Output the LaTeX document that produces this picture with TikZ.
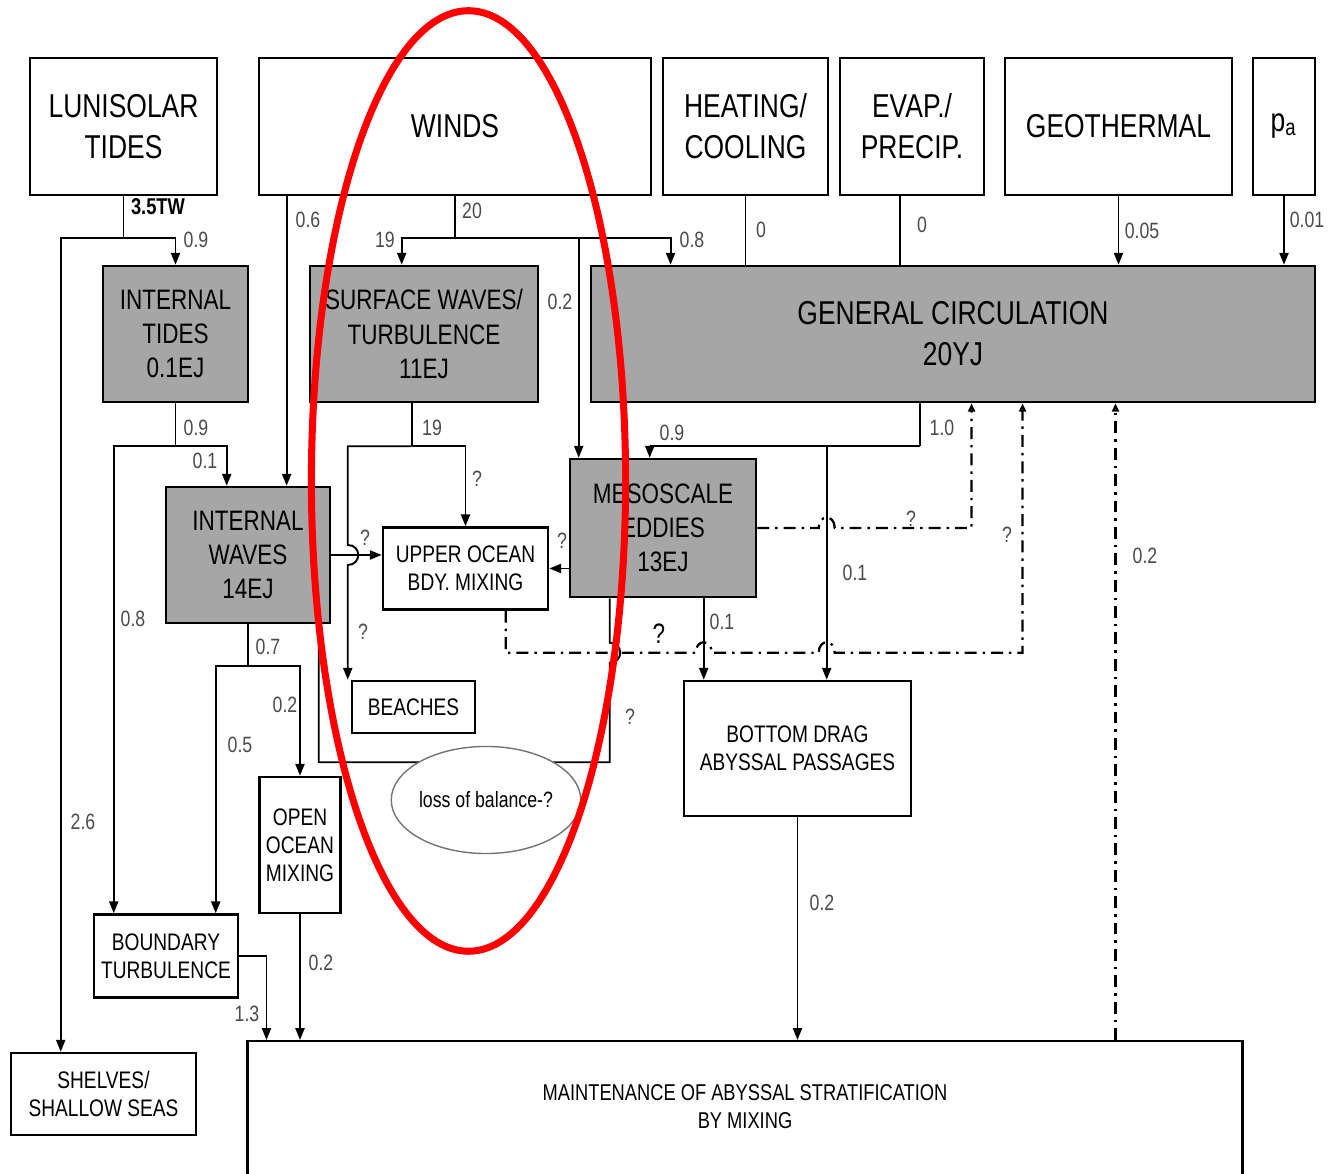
\documentclass[tikz,border=0pt]{standalone}
\usepackage{fontspec}
\setmainfont{Liberation Sans}[FakeStretch=0.8]
\usetikzlibrary{arrows.meta,calc,shapes.geometric}
\definecolor{kasten}{RGB}{166,166,166}
\definecolor{zahl}{RGB}{75,75,75}
\tikzset{
	box/.style={draw,line width=0.7pt,inner sep=0pt,align=center},
	gbox/.style={box,fill=kasten},
	big/.style={font=\fontsize{9.4}{11.6}\selectfont},
	mid/.style={font=\fontsize{8}{9.7}\selectfont},
	sml/.style={font=\fontsize{6.8}{8}\selectfont,align=center},
	wert/.style={font=\fontsize{6.3}{7}\selectfont,text=zahl,inner sep=0pt},
	fluss/.style={line width=0.55pt,->},
	rueck/.style={line width=0.65pt,dash pattern=on 3.4pt off 1.7pt on 0.7pt off 1.7pt,-{Triangle[open,length=2.4pt,width=2pt]}},
}
\def\sprungv#1{.. controls +(14,0) and +(14,0) .. ++(0,#1)}
\def\sprungh{.. controls +(0,-14) and +(0,-14) .. ++(16,0)}

\begin{document}
\begin{tikzpicture}[x=0.01cm,y=-0.01cm,>={Triangle[length=3.4pt,width=2.6pt]}]
\useasboundingbox (0,0) rectangle (1330,1174);

\node[box,big,minimum width=1.87cm,minimum height=1.37cm] (lun) at (123.5,126.5) {LUNISOLAR\\TIDES};
\node[box,big,minimum width=3.92cm,minimum height=1.37cm] (wind) at (455,126.5) {WINDS};
\node[box,big,minimum width=1.65cm,minimum height=1.37cm] (heat) at (745.5,126.5) {HEATING/\\COOLING};
\node[box,big,minimum width=1.44cm,minimum height=1.37cm] (evap) at (912,126.5) {EVAP./\\PRECIP.};
\node[box,big,minimum width=2.27cm,minimum height=1.37cm] (geo) at (1118.5,126.5) {GEOTHERMAL};
\node[box,big,minimum width=0.62cm,minimum height=1.37cm] (pa) at (1284,126.5) {p\textsubscript{a}};

\node[gbox,mid,minimum width=1.45cm,minimum height=1.36cm] (it) at (175.5,334) {INTERNAL\\TIDES\\0.1EJ};
\node[gbox,mid,minimum width=2.28cm,minimum height=1.36cm] (sw) at (424,334) {SURFACE WAVES/\\TURBULENCE\\11EJ};
\node[gbox,big,minimum width=7.24cm,minimum height=1.36cm] (gc) at (953,334) {GENERAL CIRCULATION\\20YJ};

\node[gbox,mid,minimum width=1.64cm,minimum height=1.36cm] (iw) at (248,555) {INTERNAL\\WAVES\\14EJ};
\node[box,sml,minimum width=1.65cm,minimum height=0.82cm] (uo) at (465.5,568.5) {UPPER OCEAN\\BDY. MIXING};
\node[gbox,mid,minimum width=1.86cm,minimum height=1.38cm] (me) at (663,528) {MESOSCALE\\EDDIES\\13EJ};
\node[box,sml,minimum width=1.23cm,minimum height=0.52cm] (bch) at (413.5,707) {BEACHES};
\node[box,sml,minimum width=0.81cm,minimum height=1.36cm] (oo) at (300,845) {OPEN\\OCEAN\\MIXING};
\node[box,sml,minimum width=1.44cm,minimum height=0.83cm] (bt) at (166,956) {BOUNDARY\\TURBULENCE};
\node[box,sml,minimum width=1.85cm,minimum height=0.82cm] (sh) at (103.5,1094) {SHELVES/\\SHALLOW SEAS};
\node[box,sml,minimum width=2.27cm,minimum height=1.35cm] (bd) at (797.5,748.5) {BOTTOM DRAG\\ABYSSAL PASSAGES};
\node[box,anchor=north,minimum width=9.94cm,minimum height=2cm] (mt) at (745,1040) {};
\node[sml,font=\fontsize{6.5}{8}\selectfont] (mttext) at (745,1107) {MAINTENANCE OF ABYSSAL STRATIFICATION\\BY MIXING};

\coordinate (wA) at ($(wind.south west)+(29,0)$);
\coordinate (swIn) at ($(sw.north west)+(93,0)$);
\coordinate (swOut) at ($(sw.south west)+(103,0)$);
\coordinate (gIn) at ($(gc.north west)+(81,0)$);
\coordinate (mA) at ($(me.north west)+(10,0)$);
\coordinate (eA) at ($(evap.south)+(-12,0)$);
\coordinate (bA) at ($(bch.north west)+(-3,0)$);
\coordinate (gOut) at ($(gc.south west)+(330,0)$);
\coordinate (bdA) at ($(bd.north west)+(144,0)$);
\coordinate (mB) at ($(me.south west)+(135,0)$);
\coordinate (iwB) at ($(iw.south west)+(154,0)$);
\coordinate (meB) at ($(me.south west)+(41,0)$);
\coordinate (gA) at ($(gc.south west)+(382,0)$);
\coordinate (gB) at ($(gc.south west)+(433,0)$);
\coordinate (uoB) at ($(uo.south west)+(124,0)$);
\coordinate (mC) at ($(mt.north west)+(869,0)$);

\draw[line width=0.55pt] (lun.south) -- ++(0,42) coordinate (lunJ);
\draw[fluss] (lunJ) -| (it.north);
\draw[fluss] (lunJ) -| ($(sh.north west)+(51,0)$);

\draw[fluss] (wA) -- (wA |- iw.north);
\draw[line width=0.55pt] (wind.south) -- ++(0,42) coordinate (wJ);
\draw[fluss] (wJ) -| (swIn);
\draw[fluss] (wJ) -| (gIn);
\draw[fluss] (mA |- wJ) -- (mA);

\draw[line width=0.55pt] (heat.south) -- (heat.south |- gc.north);
\draw[line width=0.55pt] (eA) -- (eA |- gc.north);
\draw[fluss] (geo.south) -- (geo.south |- gc.north);
\draw[fluss] (pa.south) -- (pa.south |- gc.north);

\draw[line width=0.55pt] (it.south) -- ++(0,43) coordinate (itJ);
\draw[fluss] (itJ) -| ($(iw.north west)+(62,0)$);
\draw[fluss] (itJ) -| ($(bt.north west)+(21,0)$);

\draw[line width=0.55pt] (swOut) -- ++(0,43) coordinate (swJ);
\draw[fluss] (swJ) -| (uo.north);
\draw[fluss] (swJ) -| ($(bA |- iw.east)+(0,-10)$) \sprungv{20} -- (bA);
\draw[fluss] (iw.east) -- (uo.west |- iw.east);
\draw[fluss] (me.west |- uo.east) -- (uo.east);

\draw[line width=0.55pt] (gOut) -- ++(0,43) coordinate (gJ);
\draw[fluss] (gJ) -| ($(me.north west)+(81,0)$);
\draw[fluss] (bdA |- gJ) -- (bdA);
\draw[fluss] (mB) -- (mB |- bd.north);

\coordinate (fJ) at ($(uoB)+(0,42)$);
\draw[line width=0.55pt] (iwB) -- ($(iwB)+(0,138)$) -| ($(meB |- fJ)+(0,10)$) \sprungv{-20} -- (meB);
\node[ellipse,draw=black!55,fill=white,line width=0.4pt,inner sep=0pt,font=\fontsize{6.3}{7}\selectfont,minimum width=1.86cm,minimum height=1.07cm] (lob) at (486,800) {loss of balance-?};

\draw[line width=0.55pt] (iw.south) -- ++(0,42) coordinate (iwJ);
\draw[fluss] (iwJ) -| ($(bt.north west)+(123,0)$);
\draw[fluss] (iwJ) -| (oo.north);
\draw[fluss] (oo.south) -- (oo.south |- mt.north);
\draw[fluss] (bt.east) -| ($(mt.north west)+(20,0)$);
\draw[fluss] (bd.south) -- (bd.south |- mt.north);

\draw[rueck] (me.east) -- ($(me.east -| bdA)+(-8,0)$) \sprungh -- (me.east -| gA) -- (gA);
\draw[rueck] (uoB) -- (fJ) -- ($(fJ -| mB)+(-8,0)$) \sprungh -- ($(fJ -| bdA)+(-8,0)$) \sprungh -- (fJ -| gB) -- (gB);
\draw[rueck] (mC) -- (mC |- gc.south);

\node[wert,text=black,font=\fontsize{6.5}{7}\selectfont\bfseries] (tw) at (158,207) {3.5TW};
\foreach \x/\y/\t [count=\i] in {196/240/0.9, 83/822/2.6, 308/220/0.6, 472/211/20, 385/240/19,
	692/240/0.8, 560/302/0.2, 761/230/0, 922/225/0, 1142/231/0.05, 1307/220/0.01,
	196/428/0.9, 205/461/0.1, 133/619/0.8, 432/428/19, 477/479/?, 365/538/?, 363/632/?,
	562/541/?, 942/428/1.0, 672/433/0.9, 855/573/0.1, 911/519/?, 1007/535/?, 1145/556/0.2,
	722/622/0.1, 630/717/?, 268/647/0.7, 285/705/0.2, 240/745/0.5, 822/903/0.2, 321/963/0.2,
	247/1014/1.3}{
	\node[wert] (w\i) at (\x,\y) {\t};
}
\node[wert,text=black,font=\fontsize{8}{9}\selectfont] (wq) at (659,634) {?};

\draw[red,line width=2pt] (468.5,481) ellipse [x radius=1.57cm,y radius=4.70cm];
\end{tikzpicture}
\end{document}
